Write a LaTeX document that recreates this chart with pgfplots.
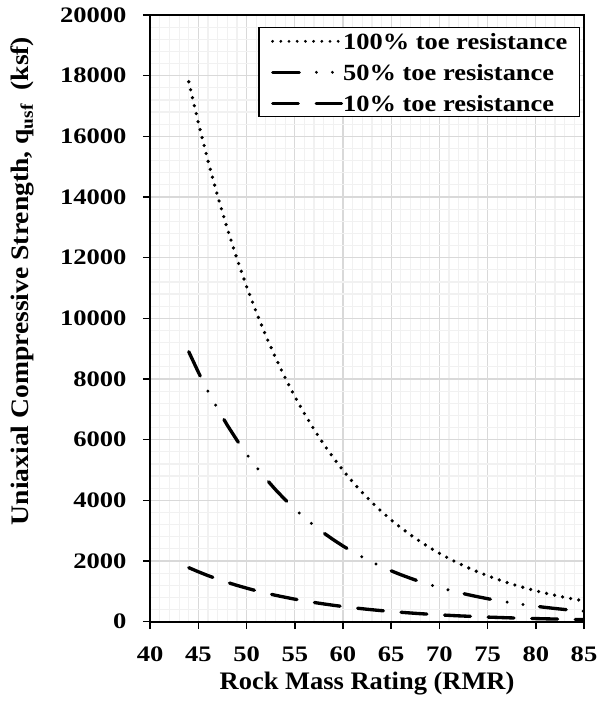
\documentclass[border=0pt]{standalone}
\usepackage{fontspec}
\setmainfont{Liberation Serif}[FakeStretch=1.1]
\newfontfamily\tickfamily{Liberation Serif}[FakeStretch=1.2]
\newfontfamily\legfamily{Liberation Serif}[FakeStretch=1.14]
\newfontfamily\xlabfamily{Liberation Serif}[FakeStretch=1.05]
\newfontfamily\ylabfamily{Liberation Serif}[FakeStretch=1.095]
\usepackage{pgfplots}
\pgfplotsset{compat=1.18}
\usepackage{pgfplotstable}

\definecolor{majgrid}{RGB}{217,217,217}
\definecolor{mingrid}{RGB}{241,241,241}

\pgfplotstableread{
x full half tenth
44 17800 8900 1780
45 16440 8220 1644
46 15184 7592 1518
47 14023 7012 1402
48 12952 6476 1295
49 11962 5981 1196
50 11048 5524 1105
51 10204 5102 1020
52 9424 4712 942
53 8704 4352 870
54 8039 4020 804
55 7424 3712 742
56 6857 3428 686
57 6333 3166 633
58 5849 2924 585
59 5402 2701 540
60 4989 2494 499
61 4608 2304 461
62 4256 2128 426
63 3931 1965 393
64 3630 1815 363
65 3353 1676 335
66 3097 1548 310
67 2860 1430 286
68 2641 1320 264
69 2439 1220 244
70 2253 1126 225
71 2081 1040 208
72 1922 961 192
73 1775 888 178
74 1639 820 164
75 1514 757 151
76 1398 699 140
77 1292 646 129
78 1193 596 119
79 1102 551 110
80 1017 509 102
81 940 470 94
82 868 434 87
83 802 401 80
84 740 370 74
85 684 342 68
}\datatable

\begin{document}
\begin{tikzpicture}
\begin{axis}[
  name=ax,
  scale only axis, width=325.35pt, height=455pt,
  xmin=40, xmax=85, ymin=0, ymax=20000,
  xtick={40,45,...,85}, ytick={0,2000,...,20000},
  minor x tick num=4, minor y tick num=4,
  grid=both,
  major grid style={majgrid, line width=0.9pt},
  minor grid style={mingrid, line width=0.9pt},
  axis line style={black, line width=1.5pt},
  tick align=outside, xtick pos=left, ytick pos=left,
  major tick length=5.5pt, minor tick length=0pt,
  tick style={black, line width=1.2pt},
  scaled y ticks=false,
  /pgf/number format/assume math mode=true,
  /pgf/number format/1000 sep={},
  ticklabel style={font=\tickfamily\bfseries\fontsize{16.6}{18}\selectfont, inner sep=0pt},
  xticklabel style={anchor=north, yshift=-13.25pt},
  yticklabel style={anchor=east, xshift=-12.1pt},
  xlabel={Rock Mass Rating (RMR)},
  xlabel style={at={(rel axis cs:0.5,0)}, anchor=base, yshift=-51.2pt, inner sep=0pt,
    font=\xlabfamily\bfseries\fontsize{18.9}{20}\selectfont},
  ylabel={Uniaxial Compressive Strength, q\textsubscript{usf}\hspace{0.25em} (ksf)},
  ylabel style={at={([xshift=-91.4pt]rel axis cs:0,0.5616)}, anchor=base, inner sep=0pt,
    font=\ylabfamily\bfseries\fontsize{18.9}{20}\selectfont},
  legend style={at={(rel axis cs:1,1)}, anchor=north east, xshift=-3pt, yshift=-9.2pt,
    draw=black, line width=0.9pt, fill=white,
    font=\legfamily\bfseries\fontsize{17.4}{19}\selectfont,
    inner xsep=9pt, inner ysep=4.2pt, row sep=11.4pt,
    /tikz/every even column/.append style={column sep=5.25pt},
    nodes={inner sep=0pt, text height=11.8pt, text depth=0pt}},
  legend cell align=left,
  legend image code/.code={\draw[#1, line width=2.3pt] (0pt,0pt) -- (51.75pt,0pt);},
]
\addplot[black, line width=2.7pt, line cap=round, dash pattern=on 0pt off 6.15pt] table[x=x, y=full] {\datatable};
\addlegendentry{100\% toe resistance}
\addplot[black, line width=2.5pt, line cap=round, dash pattern=on 20.1pt off 12.8pt on 0pt off 12pt on 0pt off 12.5pt] table[x=x, y=half] {\datatable};
\addlegendentry{50\% toe resistance}
\addplot[black, line width=2.5pt, line cap=round, dash pattern=on 19.4pt off 13.3pt] table[x=x, y=tenth] {\datatable};
\addlegendentry{10\% toe resistance}
\end{axis}
\pgfresetboundingbox
\path[use as bounding box] ([shift={(-112.65pt,-65.5pt)}]ax.south west) rectangle ([shift={(11.25pt,11.25pt)}]ax.north east);
\end{tikzpicture}
\end{document}
